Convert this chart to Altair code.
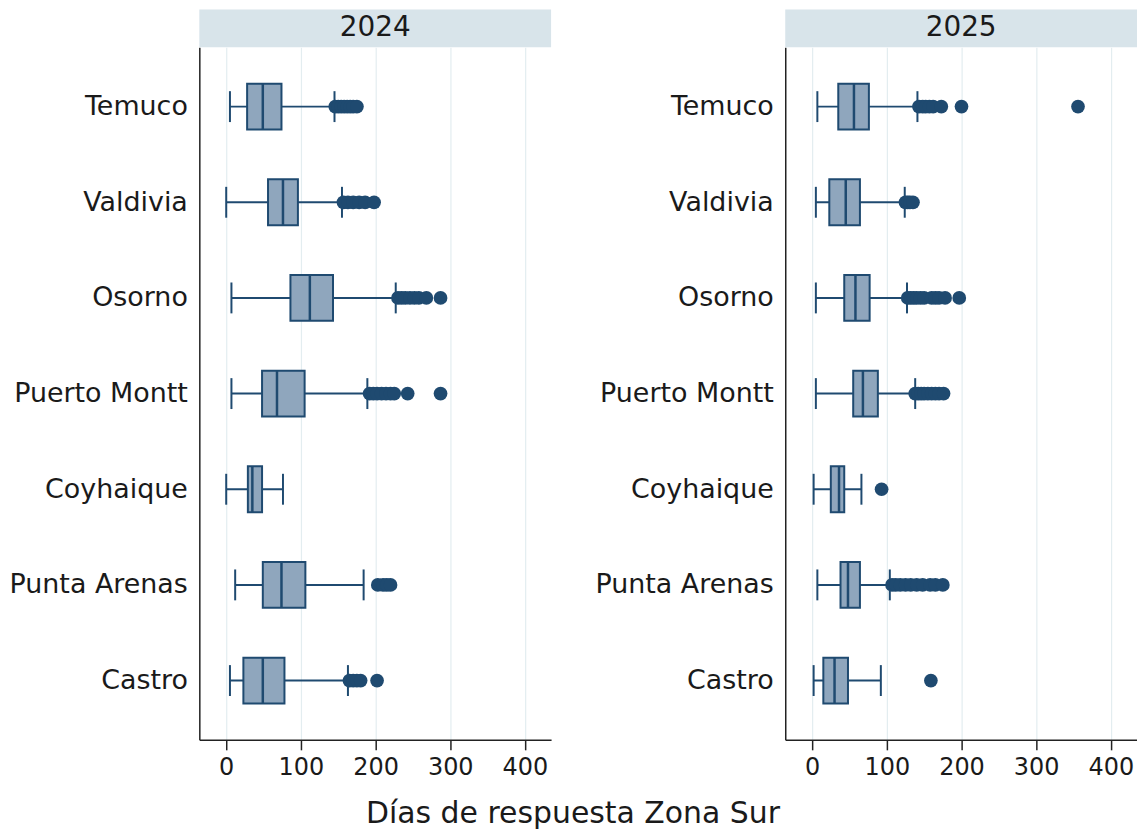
import altair as alt
import pandas as pd

cities = ["Temuco", "Valdivia", "Osorno", "Puerto Montt", "Coyhaique", "Punta Arenas", "Castro"]
years = ["2024", "2025"]

# Box statistics (días)
whisker_low_2024 = [5, 0, 7, 7, 0, 12, 5]
q1_2024 = [28, 56, 86, 48, 29, 49, 23]
median_2024 = [49, 76, 112, 68, 35, 74, 49]
q3_2024 = [74, 96, 143, 105, 48, 106, 78]
whisker_high_2024 = [145, 155, 227, 189, 76, 184, 163]

whisker_low_2025 = [7, 5, 5, 5, 2, 7, 2]
q1_2025 = [35, 23, 43, 55, 25, 38, 15]
median_2025 = [56, 45, 58, 68, 36, 48, 30]
q3_2025 = [76, 64, 77, 88, 43, 64, 48]
whisker_high_2025 = [141, 124, 127, 138, 66, 104, 92]

outliers_temuco_2024 = [146, 150, 154, 158, 162, 166, 170, 175]
outliers_valdivia_2024 = [157, 163, 170, 178, 186, 198]
outliers_osorno_2024 = [230, 235, 240, 246, 252, 258, 268, 287]
outliers_puerto_montt_2024 = [192, 197, 202, 208, 214, 220, 225, 243, 287]
outliers_coyhaique_2024 = []
outliers_punta_arenas_2024 = [203, 210, 215, 220]
outliers_castro_2024 = [165, 170, 175, 180, 202]

outliers_temuco_2025 = [143, 148, 152, 157, 162, 173, 200, 356]
outliers_valdivia_2025 = [125, 128, 131, 135]
outliers_osorno_2025 = [128, 132, 136, 140, 145, 150, 160, 165, 170, 178, 197]
outliers_puerto_montt_2025 = [138, 142, 146, 150, 155, 160, 165, 170, 176]
outliers_coyhaique_2025 = [93]
outliers_punta_arenas_2025 = [107, 112, 118, 125, 132, 140, 148, 158, 165, 175]
outliers_castro_2025 = [159]

x_ticks = [0, 100, 200, 300, 400]

stats = {
    "2024": (whisker_low_2024, q1_2024, median_2024, q3_2024, whisker_high_2024),
    "2025": (whisker_low_2025, q1_2025, median_2025, q3_2025, whisker_high_2025),
}
outliers = {
    "2024": [outliers_temuco_2024, outliers_valdivia_2024, outliers_osorno_2024,
             outliers_puerto_montt_2024, outliers_coyhaique_2024,
             outliers_punta_arenas_2024, outliers_castro_2024],
    "2025": [outliers_temuco_2025, outliers_valdivia_2025, outliers_osorno_2025,
             outliers_puerto_montt_2025, outliers_coyhaique_2025,
             outliers_punta_arenas_2025, outliers_castro_2025],
}

DARK = "#1f4a70"
FILL = "#8fa6bd"
FONT = "DejaVu Sans"
W, H = 353, 695
HEADER_H = 38


def panel(year):
    lo, q1, med, q3, hi = stats[year]
    sdf = pd.DataFrame({"city": cities, "lo": lo, "q1": q1, "med": med, "q3": q3, "hi": hi})
    rows = []
    for c, vals in zip(cities, outliers[year]):
        for v in vals:
            rows.append({"city": c, "value": v})
    odf = pd.DataFrame(rows, columns=["city", "value"])

    xscale = alt.Scale(domain=[-36, 435], nice=False, zero=False)
    yscale = alt.Scale(type="point", padding=0.62, domain=cities)
    yenc = alt.Y("city:N", sort=cities, scale=yscale,
                 axis=alt.Axis(title=None, labelFontSize=27, labelFont=FONT,
                               labelColor="#1a1a1a", ticks=False, domain=True,
                               domainColor="#222222", domainWidth=1.5,
                               labelPadding=12, grid=False))
    xaxis = alt.Axis(values=x_ticks, title=None, grid=True, gridColor="#e3edf0",
                     gridWidth=1.2, labelFontSize=24, labelFont=FONT,
                     labelColor="#1a1a1a", tickColor="#222222", tickSize=10,
                     tickWidth=1.5, domainColor="#222222", domainWidth=1.5,
                     labelPadding=6)

    base = alt.Chart(sdf)
    whisk = base.mark_rule(color=DARK, strokeWidth=2).encode(
        x=alt.X("lo:Q", scale=xscale, axis=xaxis), x2="hi:Q", y=yenc)
    box = base.mark_bar(size=46, fill=FILL, stroke=DARK, strokeWidth=2).encode(
        x=alt.X("q1:Q", scale=xscale), x2="q3:Q", y=yenc)
    medt = base.mark_tick(size=46, thickness=2.5, color=DARK, opacity=1).encode(
        x=alt.X("med:Q", scale=xscale), y=yenc)
    caplo = base.mark_tick(size=31, thickness=2, color=DARK, opacity=1).encode(
        x=alt.X("lo:Q", scale=xscale), y=yenc)
    caphi = base.mark_tick(size=31, thickness=2, color=DARK, opacity=1).encode(
        x=alt.X("hi:Q", scale=xscale), y=yenc)
    pts = alt.Chart(odf).mark_circle(size=190, color=DARK, opacity=1).encode(
        x=alt.X("value:Q", scale=xscale), y=yenc)

    hdr_data = alt.Data(values=[{"label": year}])
    hdr = alt.Chart(hdr_data).mark_rect(color="#d8e4ea").encode(
        x=alt.value(0), x2=alt.value(W), y=alt.value(-HEADER_H), y2=alt.value(0))
    hdr_text = alt.Chart(hdr_data).mark_text(
        fontSize=28, font=FONT, color="#1a1a1a", baseline="middle", align="center"
    ).encode(x=alt.value(W / 2), y=alt.value(-HEADER_H / 2), text="label:N")

    return alt.layer(whisk, box, medt, caplo, caphi, pts, hdr, hdr_text).properties(
        width=W, height=H)


chart = alt.hconcat(panel("2024"), panel("2025"), spacing=43).properties(
    title=alt.TitleParams("Días de respuesta Zona Sur", orient="bottom",
                          anchor="middle", fontSize=30, font=FONT,
                          fontWeight="normal", color="#1a1a1a", offset=19),
    padding={"left": 0, "top": 0, "right": 0, "bottom": 0},
).configure_view(stroke=None)

chart.save("out.html", embed_options={"renderer": "svg", "actions": False})
